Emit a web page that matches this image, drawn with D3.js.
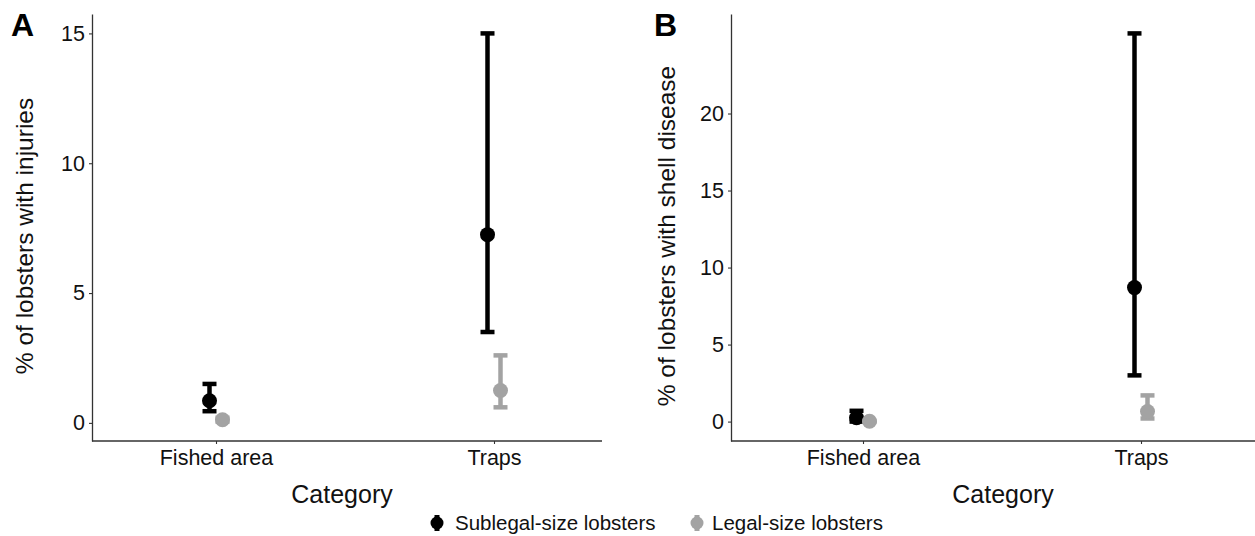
<!DOCTYPE html>
<html>
<head>
<meta charset="utf-8">
<script src="https://cdn.jsdelivr.net/npm/d3@7"></script>
<style>
  body { margin: 0; background: #fff; }
  svg { font-family: "Liberation Sans", Arial, Helvetica, sans-serif; }
</style>
</head>
<body>
<svg id="chart" width="1255" height="536"></svg>
<script>
const categories = ["Fished area", "Traps"];
const groups = ["Sublegal-size lobsters", "Legal-size lobsters"];
const groupColors = ["#000000", "#a3a3a3"];

// panel A: injuries
const injSubMean = [0.85, 7.25];
const injSubLo = [0.45, 3.5];
const injSubHi = [1.5, 15.0];
const injLegMean = [0.12, 1.25];
const injLegLo = [0.05, 0.6];
const injLegHi = [0.2, 2.6];
const injTicks = [0, 5, 10, 15];

// panel B: shell disease
const shellSubMean = [0.25, 8.7];
const shellSubLo = [0.0, 3.0];
const shellSubHi = [0.7, 25.2];
const shellLegMean = [0.02, 0.65];
const shellLegLo = [0.0, 0.2];
const shellLegHi = [0.05, 1.7];
const shellTicks = [0, 5, 10, 15, 20];

const svg = d3.select("#chart");

function rows(mean, lo, hi, g) {
  return categories.map((c, i) => ({ cat: c, g: g, mean: mean[i], lo: lo[i], hi: hi[i] }));
}

function drawPanel(opt) {
  const top = 14, bottom = 441;
  const data = opt.series;
  const lo = d3.min(data, d => d.lo), hi = d3.max(data, d => d.hi);
  const pad = (hi - lo) * 0.05;
  const y = d3.scaleLinear().domain([lo - pad, hi + pad]).range([bottom, top]);
  const x = d3.scalePoint().domain(categories).range(opt.catRange);
  const dodge = 6.5;

  const g = svg.append("g");

  // y axis
  const ya = g.append("g")
    .attr("transform", `translate(${opt.left},0)`)
    .call(d3.axisLeft(y).tickValues(opt.ticks).tickSize(3).tickSizeOuter(0).tickPadding(4));
  ya.select(".domain").attr("stroke", "#333").attr("stroke-width", 1.3);
  ya.selectAll(".tick line").attr("stroke", "#333").attr("stroke-width", 1.1);
  ya.selectAll(".tick text").attr("font-size", 21.5).attr("fill", "#111");

  // x axis
  g.append("line")
    .attr("x1", opt.left).attr("x2", opt.right)
    .attr("y1", bottom).attr("y2", bottom)
    .attr("stroke", "#333").attr("stroke-width", 1.3);
  const xa = g.append("g")
    .attr("transform", `translate(0,${bottom})`)
    .call(d3.axisBottom(x).tickSize(3).tickPadding(6));
  xa.select(".domain").remove();
  xa.selectAll(".tick line").attr("stroke", "#333").attr("stroke-width", 1.1);
  xa.selectAll(".tick text").attr("font-size", 21.5).attr("fill", "#111");

  // titles
  g.append("text")
    .attr("x", opt.catTitleX).attr("y", 503)
    .attr("text-anchor", "middle").attr("font-size", 25).attr("fill", "#111")
    .text("Category");
  g.append("text")
    .attr("transform", `translate(${opt.titleX},236) rotate(-90)`)
    .attr("text-anchor", "middle").attr("font-size", 24.5).attr("fill", "#111")
    .text(opt.yTitle);
  g.append("text")
    .attr("x", opt.tagX).attr("y", 36)
    .attr("font-size", 32).attr("font-weight", "bold").attr("fill", "#000")
    .text(opt.tag);

  // error bars + points
  const cx = d => x(d.cat) + (d.g === 0 ? -dodge : dodge);
  const col = d => groupColors[d.g];
  const marks = g.append("g").selectAll("g").data(data).join("g");
  marks.append("line")
    .attr("x1", cx).attr("x2", cx)
    .attr("y1", d => y(d.lo)).attr("y2", d => y(d.hi))
    .attr("stroke", col).attr("stroke-width", 4.5);
  marks.append("line")
    .attr("x1", d => cx(d) - 7).attr("x2", d => cx(d) + 7)
    .attr("y1", d => y(d.hi)).attr("y2", d => y(d.hi))
    .attr("stroke", col).attr("stroke-width", 4.5);
  marks.append("line")
    .attr("x1", d => cx(d) - 7).attr("x2", d => cx(d) + 7)
    .attr("y1", d => y(d.lo)).attr("y2", d => y(d.lo))
    .attr("stroke", col).attr("stroke-width", 4.5);
  marks.append("circle")
    .attr("cx", cx).attr("cy", d => y(d.mean))
    .attr("r", 7.5).attr("fill", col);
}

drawPanel({
  series: rows(injSubMean, injSubLo, injSubHi, 0).concat(rows(injLegMean, injLegLo, injLegHi, 1)),
  left: 92, right: 602, catRange: [216, 494], ticks: injTicks, catTitleX: 342,
  yTitle: "% of lobsters with injuries", titleX: 33, tag: "A", tagX: 11
});

drawPanel({
  series: rows(shellSubMean, shellSubLo, shellSubHi, 0).concat(rows(shellLegMean, shellLegLo, shellLegHi, 1)),
  left: 731, right: 1255, catRange: [863, 1141], ticks: shellTicks, catTitleX: 1003,
  yTitle: "% of lobsters with shell disease", titleX: 675, tag: "B", tagX: 654
});

// legend
const legX = [437, 697];
const leg = svg.append("g").selectAll("g").data(groups).join("g")
  .attr("transform", (d, i) => `translate(${legX[i]},523)`);
leg.append("line")
  .attr("y1", -8).attr("y2", 8)
  .attr("stroke", (d, i) => groupColors[i]).attr("stroke-width", 5);
leg.append("circle").attr("r", 6.5).attr("fill", (d, i) => groupColors[i]);
leg.append("text")
  .attr("x", (d, i) => i === 0 ? 18 : 15).attr("dy", "0.35em")
  .attr("font-size", 20.5).attr("fill", "#111")
  .text(d => d);
</script>
</body>
</html>
